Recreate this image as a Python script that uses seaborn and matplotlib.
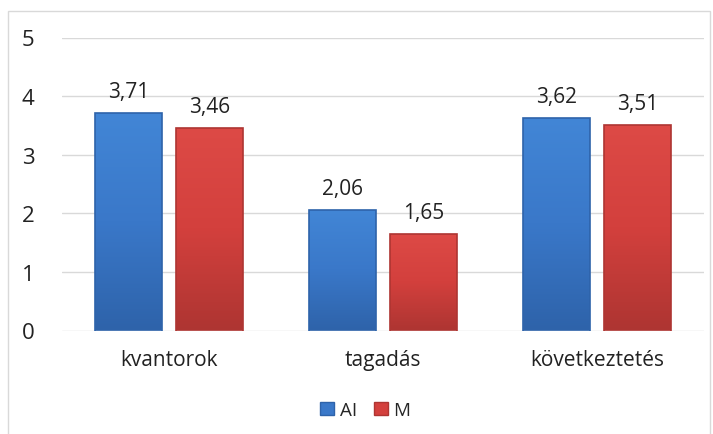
import numpy as np
import pandas as pd
import matplotlib
matplotlib.use("Agg")
import matplotlib.pyplot as plt
from matplotlib.patches import Rectangle
from matplotlib.colors import LinearSegmentedColormap
import seaborn as sns

categories = ["kvantorok", "tagadás", "következtetés"]
series_names = ["AI", "M"]
values_ai = [3.71, 2.06, 3.62]
values_m = [3.46, 1.65, 3.51]
y_ticks = [0, 1, 2, 3, 4, 5]

df = pd.DataFrame({
    "kategória": categories * 2,
    "csoport": [series_names[0]] * 3 + [series_names[1]] * 3,
    "érték": values_ai + values_m,
})

sns.set_theme(style="white")
plt.rcParams["font.family"] = ["Open Sans", "DejaVu Sans"]

palette = {"AI": "#3A78C9", "M": "#D3403D"}
shades = {
    "AI": ("#4286D6", "#3A78C9", "#2E63AA"),
    "M": ("#DD4A46", "#D3403D", "#AE3532"),
}

fig = plt.figure(figsize=(7.13, 4.35), dpi=100)
fig.patches.append(Rectangle((8 / 713, -0.01), 702 / 713, 1.01 - 12 / 435, transform=fig.transFigure,
                             fill=False, edgecolor="#D9D9D9", linewidth=1.0))
ax = fig.add_axes([62 / 713, 1 - 331.5 / 435, 642 / 713, (331.5 - 38.5) / 435])

sns.barplot(data=df, x="kategória", y="érték", hue="csoport", palette=palette,
            width=0.76, gap=0.18, ax=ax, legend=False, saturation=1)

ax.set_ylim(0, 5)
ax.set_xlim(-0.5, 2.5)
ax.set_yticks(y_ticks)
ax.set_yticklabels([str(t) for t in y_ticks], fontsize=16, color="#222222")
ax.tick_params(axis="y", length=0, pad=20)
ax.tick_params(axis="x", length=0, pad=13, labelsize=15, labelcolor="#222222")
ax.set_xlabel("")
ax.set_ylabel("")
for s in ax.spines.values():
    s.set_visible(False)
ax.yaxis.grid(True, color="#D9D9D9", linewidth=1.0)
ax.set_axisbelow(True)

# Shade each bar with a soft vertical gradient and bevelled edge
bars = list(ax.patches)
groups = [series_names[0]] * 3 + [series_names[1]] * 3
for bar, grp in zip(bars, groups):
    x0, y0 = bar.get_x(), bar.get_y()
    w, h = bar.get_width(), bar.get_height()
    top, mid, bot = shades[grp]
    cmap = LinearSegmentedColormap.from_list("g", [bot, mid, top])
    grad = np.linspace(0, 1, 256).reshape(-1, 1)
    im = ax.imshow(grad, cmap=cmap, origin="lower", aspect="auto",
                   extent=(x0, x0 + w, y0, y0 + h), zorder=bar.get_zorder() + 0.1)
    im.set_clip_path(bar)
    ax.add_patch(Rectangle((x0, y0), w, h, fill=False, edgecolor=bot,
                           linewidth=1.2, zorder=bar.get_zorder() + 0.2))
    ax.annotate(f"{h:.2f}".replace(".", ","), (x0 + w / 2, h), xytext=(0, 8),
                textcoords="offset points", ha="center", va="bottom",
                fontsize=15, color="#222222")
    bar.set_visible(False)

ax.set_xlim(-0.5, 2.5)
ax.set_ylim(0, 5)

handles = [Rectangle((0, 0), 1, 1, facecolor=palette[n], edgecolor=shades[n][2]) for n in series_names]
fig.legend(handles, series_names, loc="center", bbox_to_anchor=(365 / 713, 1 - 411 / 435),
           ncol=2, frameon=False, fontsize=13.5, handlelength=0.75, handleheight=0.75,
           handletextpad=0.3, columnspacing=0.9)

fig.savefig("out.png", dpi=100)
